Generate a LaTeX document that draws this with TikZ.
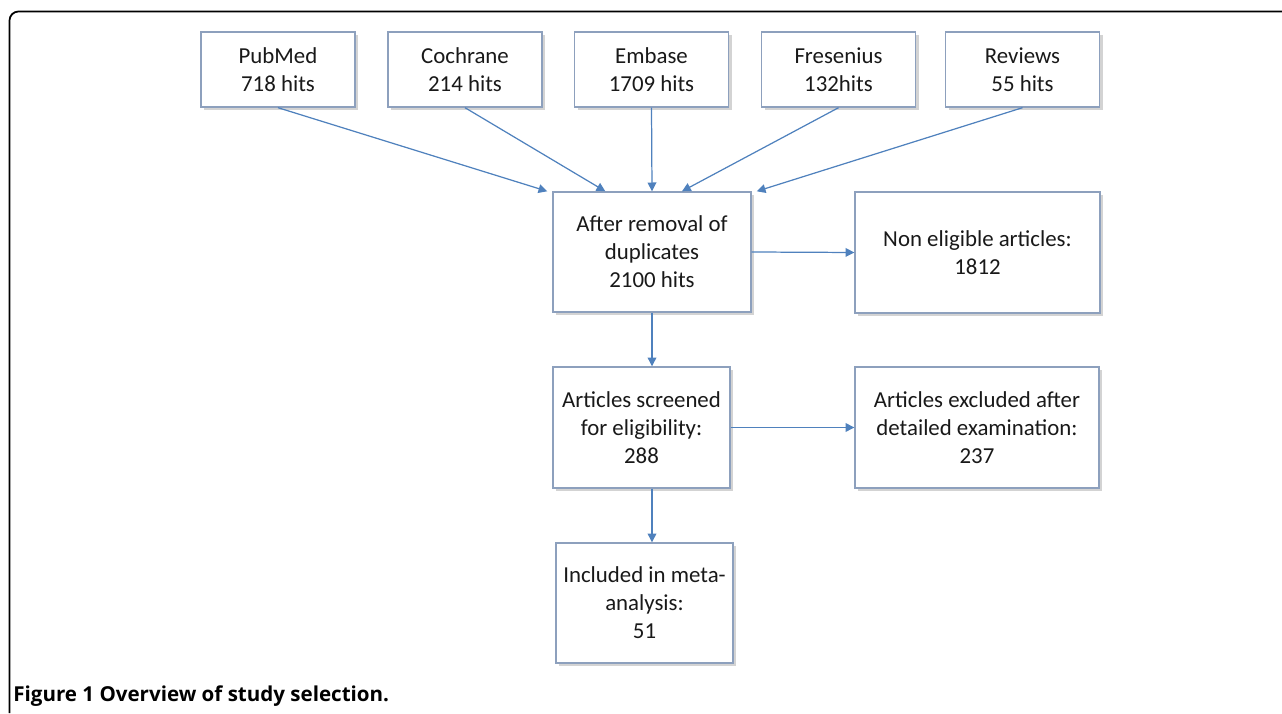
\documentclass[tikz,border=0pt]{standalone}
\usepackage{fontspec}
\setmainfont{Carlito}
\newfontfamily\capfont{Open Sans}
\usetikzlibrary{positioning,arrows.meta,shadows}
\definecolor{boxline}{RGB}{141,160,189}
\definecolor{arrowblue}{RGB}{79,129,189}
\definecolor{textgray}{RGB}{25,25,25}
\tikzset{
  box/.style={draw=boxline, line width=0.8pt, fill=white, align=center, inner sep=2pt,
    text=textgray, font=\fontsize{13}{15.9}\selectfont,
    drop shadow={shadow xshift=0.06cm, shadow yshift=-0.06cm, opacity=0.35, fill=gray}},
  source/.style={box, minimum width=3.08cm, minimum height=1.5cm},
  link/.style={draw=arrowblue, line width=0.7pt, -{Triangle[length=5pt,width=5pt]}}
}
\begin{document}
\begin{tikzpicture}
        \useasboundingbox (0,0) rectangle (25.64,14.26);
        \draw[line width=1pt, rounded corners=0.18cm] (0.19,0) -- (0.19,14.03) -- (25.64,14.03);

        \node[source] (pubmed) at (5.56,12.87) {PubMed\\718 hits};
        \node[source] (cochrane) at (9.30,12.87) {Cochrane\\214 hits};
        \node[source] (embase) at (13.03,12.87) {Embase\\1709 hits};
        \node[source] (fresenius) at (16.77,12.87) {Fresenius\\132hits};
        \node[source] (reviews) at (20.45,12.87) {Reviews\\55 hits};

        \node[box, minimum width=3.96cm, minimum height=2.4cm] (dedup) at (13.04,9.22) {After removal of\\duplicates\\2100 hits};
        \node[box, minimum width=4.9cm, minimum height=2.42cm] (noneligible) at (19.55,9.21) {Non eligible articles:\\1812};
        \node[box, minimum width=3.54cm, minimum height=2.42cm] (screened) at (12.83,5.71) {Articles screened\\for eligibility:\\288};
        \node[box, minimum width=4.88cm, minimum height=2.42cm] (excluded) at (19.54,5.71) {Articles excluded after\\detailed examination:\\237};
        \node[box, minimum width=3.54cm, minimum height=2.4cm] (included) at (12.89,2.2) {Included in meta-\\analysis:\\51};

        \coordinate[left=0.1cm of dedup.north west] (in1);
        \coordinate[right=1.06cm of dedup.north west] (in2);
        \coordinate (in3) at (dedup.north);
        \coordinate[right=0.6cm of dedup.north] (in4);
        \coordinate[right=0.1cm of dedup.north east] (in5);

        \draw[link] (pubmed.south) -- (in1);
        \draw[link] (cochrane.south) -- (in2);
        \draw[link] (embase.south) -- (in3);
        \draw[link] (fresenius.south) -- (in4);
        \draw[link] (reviews.south) -- (in5);

        \draw[link] (dedup.east) -- (noneligible.west);
        \draw[link] (dedup.south) -- (dedup.south |- screened.north);
        \draw[link] (screened.east) -- (excluded.west);
        \draw[link] (dedup.south |- screened.south) -- (dedup.south |- included.north);

        \node[anchor=base west, inner sep=0, font=\capfont\bfseries\fontsize{11.7}{14}\selectfont] (caption) at (0.26,0.24) {Figure 1 Overview of study selection.};
    \end{tikzpicture}
\end{document}
